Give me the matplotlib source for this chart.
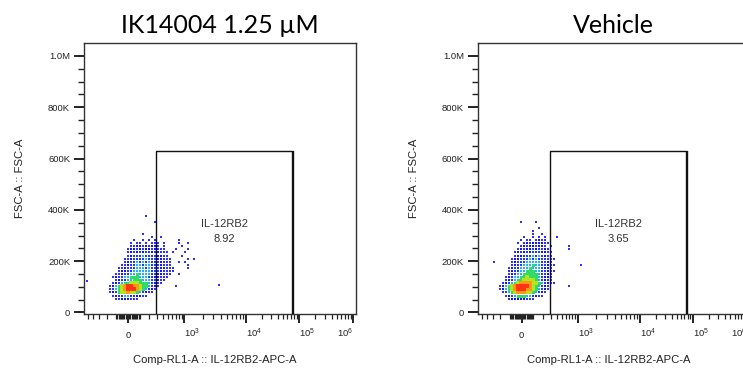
import numpy as np
import matplotlib
matplotlib.use("Agg")
import matplotlib.pyplot as plt
from matplotlib.ticker import FixedLocator, NullFormatter
import matplotlib.transforms as mtransforms

plt.rcParams['font.family'] = ['Liberation Sans', 'DejaVu Sans']
plt.rcParams['mathtext.fontset'] = 'custom'
plt.rcParams['mathtext.rm'] = 'Liberation Sans'
plt.rcParams['mathtext.it'] = 'Liberation Sans:italic'
plt.rcParams['mathtext.bf'] = 'Liberation Sans:bold'

# ---------------------------------------------------------------- data
titles = ["IK14004 1.25 µM", "Vehicle"]
gate_name = "IL-12RB2"
gate_pct = ["8.92", "3.65"]
x_label = "Comp-RL1-A :: IL-12RB2-APC-A"
y_label = "FSC-A :: FSC-A"

# rectangular gate (APC intensity, FSC-A)
gate_x = [290, 77000]
gate_y = [-6000, 628000]

y_ticks = [0, 200e3, 400e3, 600e3, 800e3, 1.0e6]
y_ticklabels = ["0", "200K", "400K", "600K", "800K", "1.0M"]
x_ticks = [0, 1e3, 1e4, 1e5, 1e6]
x_ticklabels = ["0", "$10^{3}$", "$10^{4}$", "$10^{5}$", "$10^{6}$"]

# event density per bin (0 = empty ... 8 = densest); rows run from
# FSC-A 384K (top) down to 48K in 12K steps, columns are equal-width
# bins on the biexponential APC axis starting just below zero
density_ik = [
    "0000000000000010000000000000000",
    "0000000000000000000000000000000",
    "0000000000000000010000000000000",
    "0000000000000000000000000000000",
    "0000000000000000000000000000000",
    "0000000000000000000000000000000",
    "0000000000000100000000000000000",
    "0000000000000000100100000000000",
    "0000000000100101010000000100000",
    "0000000001011010111010000100100",
    "0000000001122121221010000010000",
    "0000000012212322321110001000100",
    "0000000012323233232111010001000",
    "0000000012333433332211000010000",
    "0000000112333343332211100000101",
    "0000000123343434333211100101000",
    "0000001123344344333211100000100",
    "0000011233344434333221110000100",
    "0000012233444444333211110000000",
    "0000112334454444332211100100000",
    "0001233445554443322111000000000",
    "0000123344555444332110000000000",
    "0001234556665554321100000000000",
    "0012456788776554321000001000000",
    "0013456788876543210000000000000",
    "0012356676654321100000000000000",
    "0001233443322110000000000000000",
    "0000112221110000000000000000000",
]
density_vehicle = [
    "0000000000000000000000000000000",
    "0000000000000000000000000000000",
    "0000000010000100000000000000000",
    "0000000000000000000000000000000",
    "0000000000000010000000000000000",
    "0000000000001000000000000000000",
    "0000000000001001000000000000000",
    "0000000001001010100010000000000",
    "0000000010110121100000000000000",
    "0000000101212222110000000000000",
    "0000000012122322101000001000000",
    "0000000121223233210000001000000",
    "0000001212323332211000000000000",
    "0000001223334343211000000000000",
    "0000012233343433311100000000000",
    "0000012333444443321000000000000",
    "0000012334445443321100000000100",
    "0000123344454443221000000000000",
    "0000123344555443321100000000000",
    "0000123445555543321000000000000",
    "0001234455655543221000000000000",
    "0001234556666543211000000000000",
    "0012345677776654321100000000000",
    "0124567888876543210000001000000",
    "0124567888776543210000000000000",
    "0013456777665432100000000000000",
    "0001234555443211000000000000000",
    "0000122222111000000000000000000",
]
# isolated events outside the binned region (APC, FSC-A)
extra_ik = [(-530, 123e3), (3700, 107e3)]
extra_vehicle = [(-280, 196e3)]

# ---------------------------------------------------------------- biexponential axis
biex_values = [-1e7, -1e6, -1e5, -1e4, -1e3, 0, 1e3, 1e4, 1e5, 1e6, 1e7]
biex_display = [-280, -225, -171, -118, -56, 0, 56, 118, 171, 225, 280]
_u = np.arcsinh(np.array(biex_values) / 200.0)


def biex_fwd(v):
    return np.interp(np.arcsinh(np.asarray(v, float) / 200.0), _u, biex_display)


def biex_inv(p):
    return 200.0 * np.sinh(np.interp(np.asarray(p, float), biex_display, _u))


minor_x = []
for e in range(1, 6):
    for k in range(1, 10):
        v = k * 10 ** e
        if v not in x_ticks:
            minor_x += [v, -v]
minor_y = [v for v in np.arange(0, 1.05e6, 50e3) if v not in y_ticks]

level_color = {1: "#3030ff", 2: "#1414f0", 3: "#2038ff", 4: "#20b4f4",
               5: "#30dc64", 6: "#b4e41e", 7: "#ff9614", 8: "#ff3414"}
level_px = {1: 1.2, 2: 1.7, 3: 2.2, 4: 2.6, 5: 3.0, 6: 3.1, 7: 3.1, 8: 3.1}

W, H, DPI = 743, 369, 100
fig = plt.figure(figsize=(W / DPI, H / DPI), dpi=DPI)
fig.patch.set_facecolor("white")

ax_w, ax_h = 272, 271
panels = [(84, titles[0], gate_pct[0], density_ik, extra_ik),
          (477.7, titles[1], gate_pct[1], density_vehicle, extra_vehicle)]

ink = "#222222"
for left_px, title, pct, dens, extra in panels:
    ax = fig.add_axes([left_px / W, (H - 314) / H, ax_w / W, ax_h / H])
    ax.set_xscale("function", functions=(biex_fwd, biex_inv))
    ax.set_xlim(biex_inv(-44), biex_inv(228))
    ax.set_ylim(-6000, 1.0505e6)

    # density bins -> events
    pts = {lv: ([], []) for lv in range(1, 9)}
    for r, row in enumerate(dens):
        fsc = 378e3 - 12e3 * r
        for c, ch in enumerate(row):
            lv = int(ch)
            if lv:
                pts[lv][0].append(biex_inv(-24.5 + 3 * c))
                pts[lv][1].append(fsc)
    for x, y in extra:
        pts[1][0].append(x)
        pts[1][1].append(y)
    for lv in range(1, 9):
        xs, ys = pts[lv]
        if xs:
            size = (level_px[lv] * 72 / DPI) ** 2
            ax.scatter(xs, ys, s=size, marker="s", c=level_color[lv],
                       linewidths=0, zorder=2)

    # gate
    gx0, gx1 = gate_x
    gy0, gy1 = gate_y
    ax.plot([gx0, gx0, gx1], [gy0, gy1, gy1], color="#111111", lw=1.0,
            zorder=3, solid_capstyle="butt")
    ax.plot([gx1, gx1], [gy1, gy0], color="#111111", lw=1.7, zorder=3,
            solid_capstyle="butt")
    gcx = biex_inv((biex_fwd(gx0) + biex_fwd(gx1)) / 2)
    ax.text(gcx, 344e3, gate_name, ha="center", va="center", fontsize=8, color="#333333")
    ax.text(gcx, 285e3, pct, ha="center", va="center", fontsize=8, color="#333333")

    # axes styling
    for sp in ax.spines.values():
        sp.set_color("#333333")
        sp.set_linewidth(1.0)
    ax.yaxis.set_major_locator(FixedLocator(y_ticks))
    ax.yaxis.set_minor_locator(FixedLocator(minor_y))
    ax.set_yticklabels(y_ticklabels)
    ax.xaxis.set_major_locator(FixedLocator(x_ticks))
    ax.xaxis.set_minor_locator(FixedLocator(minor_x))
    ax.xaxis.set_major_formatter(NullFormatter())
    ax.xaxis.set_minor_formatter(NullFormatter())
    ax.tick_params(axis="y", which="major", length=7, width=1.4, color=ink,
                   labelsize=6.8, labelcolor=ink, pad=3)
    ax.tick_params(axis="y", which="minor", length=4, width=1.0, color=ink)
    ax.tick_params(axis="x", which="major", length=6.5, width=1.4, color=ink)
    ax.tick_params(axis="x", which="minor", length=3.5, width=0.9, color=ink)

    # x tick labels
    trans = mtransforms.blended_transform_factory(ax.transData, ax.transAxes)
    yb = (314 - 337.5) / ax_h
    for v, lab in zip(x_ticks, x_ticklabels):
        ha = "center" if v == 0 else ("right" if v == x_ticks[-1] else "left")
        ax.text(v, yb, lab, transform=trans, ha=ha, va="baseline",
                fontsize=6.8, color=ink, clip_on=False)

    ax.text(0.482, (314 - 360) / ax_h, x_label, transform=ax.transAxes,
            ha="center", va="center", fontsize=8.1, color=ink)
    ax.text(-64 / ax_w, 0.5, y_label, transform=ax.transAxes, rotation=90,
            ha="center", va="center", fontsize=8.1, color=ink)
    ax.text(0.5, 1 + 9.7 / ax_h, title, transform=ax.transAxes, ha="center",
            va="baseline", fontsize=18, family=["Lato", "DejaVu Sans"], color="black")

fig.savefig("out.png", dpi=DPI, facecolor="white")
